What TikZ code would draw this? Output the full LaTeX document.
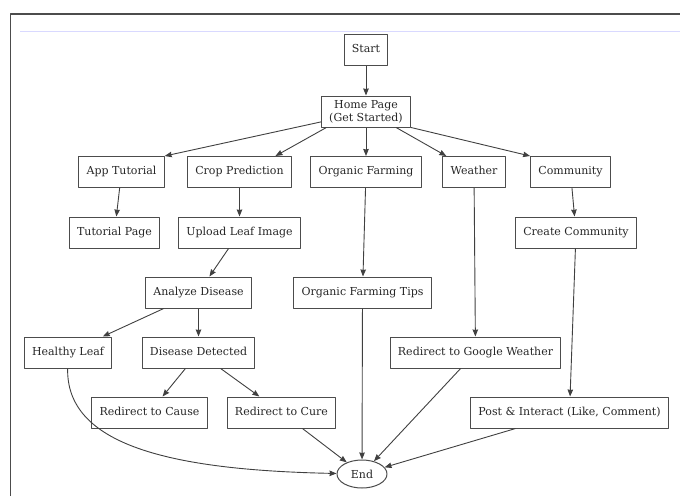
\documentclass[tikz,border=0pt]{standalone}
\usepackage{fontspec}
\setmainfont{DejaVu Serif}
\usetikzlibrary{shapes.geometric,arrows.meta}
\begin{document}
\begin{tikzpicture}[x=1pt, y=-1pt, font=\fontsize{11}{13}\selectfont, line join=round, >=stealth]
			\tikzset{s/.style={draw=black!70,line width=1pt,text=black!85,rectangle,minimum height=31pt,inner xsep=7.8pt,text height=8pt,text depth=2.5pt,align=center},
				e/.style={draw=black!70,line width=1pt,text=black!85,ellipse,minimum width=50pt,minimum height=28pt,inner sep=1pt}}
			\useasboundingbox(0,0)rectangle(680,496);
			\draw[line width=1.2pt,black!70](10.5,496)--(10.5,14)--(680,14);
			\draw[blue!15,thin](20,31)--(680,31);
			\path(366,50)node[s](St){Start}
				(366,111.5)node[s,text height=,text depth=](Hm){Home Page\\(Get Started)};
			\path(121.5,172)node[s](Tu){App Tutorial}
				(239.5,172)node[s](Cr){Crop Prediction}
				(366,172)node[s](Or){Organic Farming}
				(474,172)node[s](We){Weather}
				(570.5,172)node[s](Co){Community};
			\path(114.5,232.5)node[s](TP){Tutorial Page}
				(239.5,232.5)node[s](Up){Upload Leaf Image}
				(576,232.5)node[s](CC){Create Community};
			\path(198.5,292.5)node[s](An){Analyze Disease}
				(362.5,292.5)node[s](OT){Organic Farming Tips};
			\path(68,352.5)node[s](HL){Healthy Leaf}
				(198.5,352.5)node[s](DD){Disease Detected}
				(475.5,352.5)node[s](GW){Redirect to Google Weather};
			\path(149.5,412.5)node[s](Ca){Redirect to Cause}
				(281.5,412.5)node[s](Cu){Redirect to Cure}
				(569.5,412.5)node[s](Po){Post \& Interact (Like, Comment)};
			\path(362,474)node[e](En){End};
			\foreach \x/\y in {
				St/Hm,
				Hm.193/Tu.north east,Hm.202/Cr.24,Hm.south/Or.north,Hm.-28/We.150,Hm.south east/Co.north west,
				Tu/TP,Cr/Up,Co/CC,
				Up/An,Or/OT,We/GW,CC/Po,
				An/HL,An/DD,
				DD/Ca,DD/Cu,
				Cu/En,OT/En,GW/En,Po/En}
			\draw[black!75,line width=0.9pt,-{Stealth[length=7pt,width=5.5pt,inset=0.5pt]}](\x)--(\y);
			\draw[black!75,line width=0.9pt,-{Stealth[length=7pt,width=5.5pt,inset=0.5pt]}](HL).. controls (66,445) and (170,470) ..(En);
		\end{tikzpicture}
\end{document}
